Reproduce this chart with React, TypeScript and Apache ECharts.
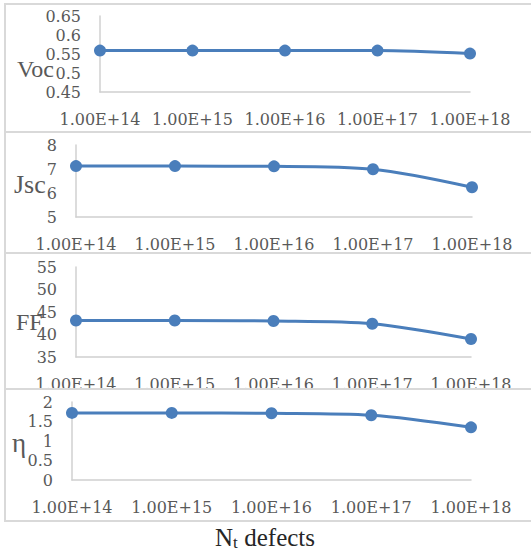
import React, { useEffect, useRef } from "react";
import * as echarts from "echarts";

const categories = ["1.00E+14", "1.00E+15", "1.00E+16", "1.00E+17", "1.00E+18"];
const vocValues = [0.559, 0.559, 0.559, 0.559, 0.551];
const jscValues = [7.12, 7.12, 7.11, 6.99, 6.24];
const ffValues = [43.1, 43.1, 43.0, 42.4, 39.0];
const etaValues = [1.72, 1.72, 1.71, 1.66, 1.35];

const vocAxis = [0.45, 0.65, 0.05];
const jscAxis = [5, 8, 1];
const ffAxis = [35, 55, 5];
const etaAxis = [0, 2, 0.5];

const LINE = "#4a7ebb";
const GRAY_TEXT = "#595959";
const AXIS_LINE = "#d0d0d0";
const BOX = "#d9d9d9";
const TICK_FONT = "'DejaVu Serif', serif";
const TITLE_FONT = "'Liberation Serif', serif";
const XTITLE = "#262626";

const panels = [
  { grid: { left: 100, top: 16, width: 370, height: 76 }, axis: vocAxis, data: vocValues, z: 2 },
  { grid: { left: 76, top: 145, width: 396, height: 72 }, axis: jscAxis, data: jscValues, z: 2 },
  { grid: { left: 76, top: 267, width: 395, height: 90 }, axis: ffAxis, data: ffValues, z: 2 },
  { grid: { left: 72, top: 402, width: 399, height: 78 }, axis: etaAxis, data: etaValues, z: 20 },
];

export default function App() {
  const ref = useRef<HTMLDivElement>(null);
  useEffect(() => {
    if (!ref.current) return;
    const chart = echarts.init(ref.current, null, { renderer: "svg" });
    const option: any = {
      animation: false,
      backgroundColor: "#ffffff",
      grid: panels.map((p) => ({ ...p.grid, z: p.z })),
      xAxis: panels.map((p, i) => ({
        type: "category",
        gridIndex: i,
        data: categories,
        boundaryGap: false,
        z: p.z,
        axisLine: { lineStyle: { color: AXIS_LINE, width: 1.5 } },
        axisTick: { show: false },
        splitLine: { show: false },
        axisLabel: {
          interval: 0,
          margin: 19,
          color: GRAY_TEXT,
          fontFamily: TICK_FONT,
          fontSize: 16,
        },
      })),
      yAxis: panels.map((p, i) => ({
        type: "value",
        gridIndex: i,
        min: p.axis[0],
        max: p.axis[1],
        interval: p.axis[2],
        z: p.z,
        axisLine: { show: true, lineStyle: { color: AXIS_LINE, width: 1.5 } },
        axisTick: { show: false },
        splitLine: { show: false },
        axisLabel: {
          margin: 19,
          color: GRAY_TEXT,
          fontFamily: TICK_FONT,
          fontSize: 16,
        },
      })),
      series: panels.map((p, i) => ({
        type: "line",
        xAxisIndex: i,
        yAxisIndex: i,
        data: p.data,
        smooth: 0.3,
        z: p.z + 1,
        symbol: "circle",
        symbolSize: 12,
        lineStyle: { color: LINE, width: 3 },
        itemStyle: { color: LINE },
      })),
      graphic: [
        { type: "rect", z: 1, shape: { x: 5, y: 4, width: 540, height: 128 }, style: { fill: "none", stroke: BOX, lineWidth: 2 } },
        { type: "rect", z: 1, shape: { x: 5, y: 132, width: 540, height: 121 }, style: { fill: "none", stroke: BOX, lineWidth: 2 } },
        { type: "rect", z: 1, shape: { x: 5, y: 253, width: 540, height: 145 }, style: { fill: "none", stroke: BOX, lineWidth: 2 } },
        { type: "rect", z: 15, shape: { x: 5, y: 389, width: 540, height: 132 }, style: { fill: "#ffffff", stroke: BOX, lineWidth: 2 } },
        { type: "text", z: 30, x: 17, y: 69, style: { text: "Voc", fontFamily: TITLE_FONT, fontSize: 24, fill: GRAY_TEXT, verticalAlign: "middle" } },
        { type: "text", z: 30, x: 14, y: 184, style: { text: "Jsc", fontFamily: TITLE_FONT, fontSize: 26, fill: GRAY_TEXT, verticalAlign: "middle" } },
        { type: "text", z: 30, x: 16, y: 322, style: { text: "FF", fontFamily: TITLE_FONT, fontSize: 24, fill: GRAY_TEXT, verticalAlign: "middle" } },
        { type: "text", z: 30, x: 12, y: 443, style: { text: "η", fontFamily: TITLE_FONT, fontSize: 27, fill: GRAY_TEXT, verticalAlign: "middle" } },
        { type: "text", z: 30, x: 215, y: 537, style: { text: "N", fontFamily: TITLE_FONT, fontSize: 25, fill: XTITLE, verticalAlign: "middle" } },
        { type: "text", z: 30, x: 233, y: 542, style: { text: "t", fontFamily: TITLE_FONT, fontSize: 17, fill: XTITLE, verticalAlign: "middle" } },
        { type: "text", z: 30, x: 238, y: 537, style: { text: " defects", fontFamily: TITLE_FONT, fontSize: 25, fill: XTITLE, verticalAlign: "middle" } },
      ],
    };
    chart.setOption(option);
    return () => chart.dispose();
  }, []);
  return (
    <div
      ref={ref}
      style={{ position: "absolute", left: 0, top: 0, width: 531, height: 552 }}
    />
  );
}
